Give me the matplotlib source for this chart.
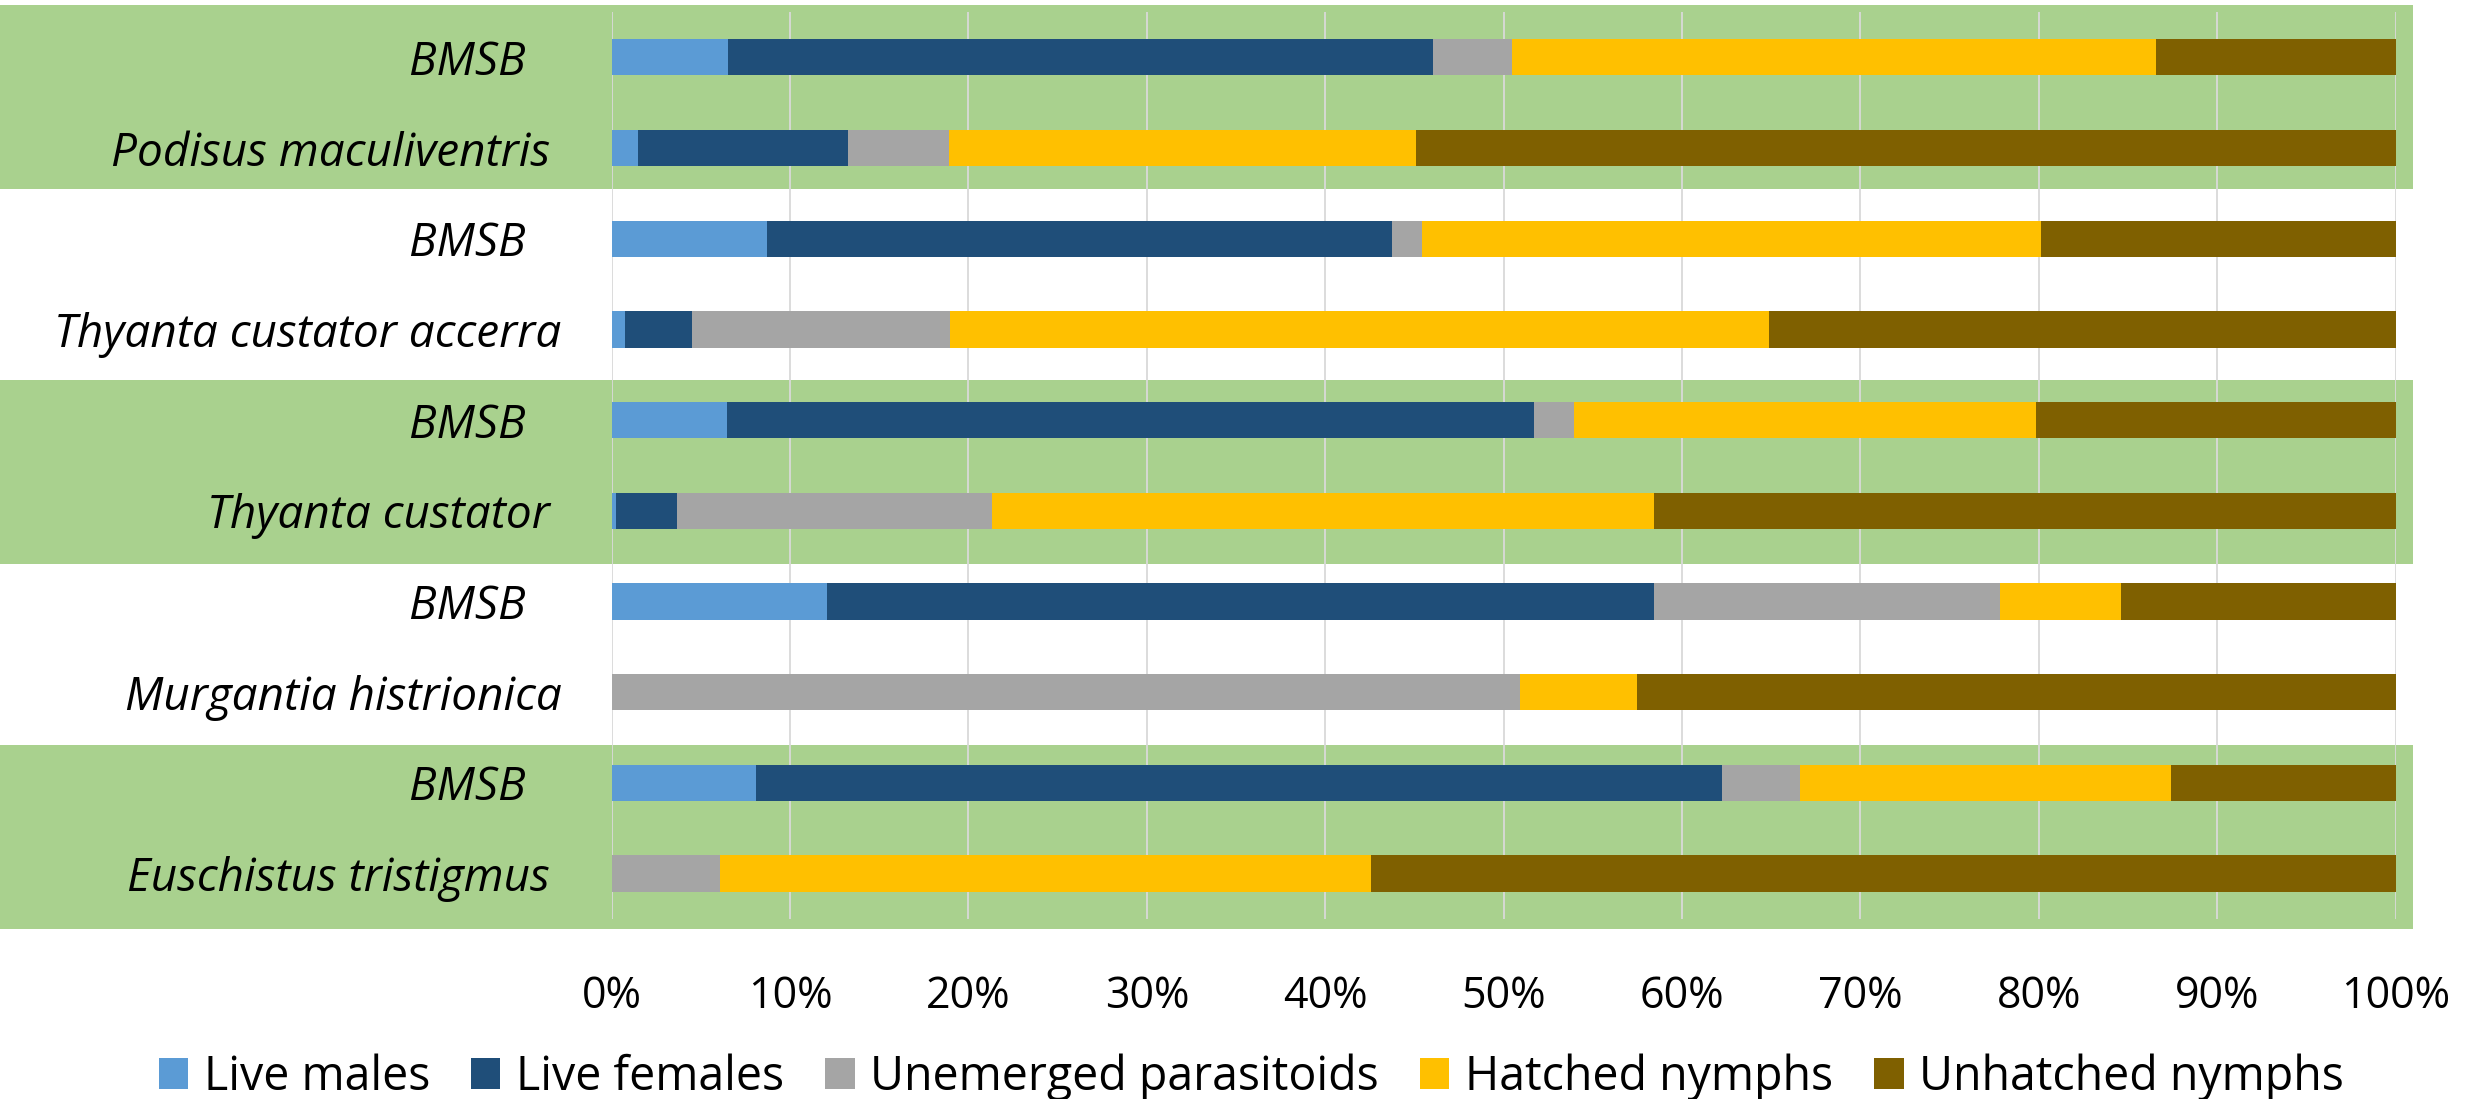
import numpy as np
import matplotlib
matplotlib.use('Agg')
import matplotlib.pyplot as plt

plt.rcParams['font.family'] = ['Open Sans', 'DejaVu Sans']

# rows from top to bottom
species = ['BMSB   ', 'Podisus maculiventris ', 'BMSB   ', 'Thyanta custator accerra',
           'BMSB   ', 'Thyanta custator ', 'BMSB   ', 'Murgantia histrionica',
           'BMSB   ', 'Euschistus tristigmus ']
live_males = [6.5, 1.5, 8.7, 0.75, 6.45, 0.27, 12.1, 0.0, 8.1, 0.0]
live_females = [39.55, 11.75, 35.05, 3.73, 45.25, 3.4, 46.3, 0.0, 54.15, 0.0]
unemerged = [4.4, 5.65, 1.7, 14.47, 2.25, 17.66, 19.4, 50.9, 4.35, 6.05]
hatched = [36.1, 26.2, 34.65, 45.93, 25.88, 37.09, 6.8, 6.6, 20.8, 36.5]
unhatched = [13.45, 54.9, 19.9, 35.12, 20.17, 41.58, 15.4, 42.5, 12.6, 57.45]

series = [('Live males', live_males, '#5B9BD5'),
          ('Live females', live_females, '#1F4E79'),
          ('Unemerged parasitoids', unemerged, '#A5A5A5'),
          ('Hatched nymphs', hatched, '#FFC000'),
          ('Unhatched nymphs', unhatched, '#7F6000')]

fig = plt.figure(figsize=(24.78, 10.99), dpi=100)
ax = fig.add_axes([0.2468, 0.1638, 0.72, 0.8253])
ax.set_facecolor('none')

y = np.arange(len(species))
left = np.zeros(len(species))
for name, vals, col in series:
    vals = np.array(vals)
    ax.barh(y, vals, left=left, height=0.4, color=col, label=name, zorder=2)
    left += vals

# green shading behind pairs of rows
for y0, y1 in [(-0.577, 1.452), (3.557, 5.586), (7.58, 9.61)]:
    ax.axhspan(y0, y1, xmin=-0.343, xmax=1.0096, color='#A9D18E', zorder=0, clip_on=False, lw=0)

ax.set_xlim(0, 100)
ax.set_ylim(9.5, -0.5)
ax.set_xticks(np.arange(0, 101, 10))
ax.set_xticklabels([f'{v}%' for v in range(0, 101, 10)])
ax.set_yticks(y)
ax.set_yticklabels(species, style='italic')
ax.tick_params(axis='x', length=0, pad=40, labelsize=31)
ax.tick_params(axis='y', length=0, pad=36, labelsize=33)
ax.set_axisbelow(True)
ax.grid(axis='x', color='#D9D9D9', lw=1.3)
for s in ax.spines.values():
    s.set_visible(False)

fig.legend(loc='center', bbox_to_anchor=(0.505, 0.02), ncol=5, frameon=False,
           fontsize=33.5, handlelength=0.63, handleheight=0.63, handletextpad=0.34,
           columnspacing=0.88)

fig.savefig('out.png', dpi=100)
